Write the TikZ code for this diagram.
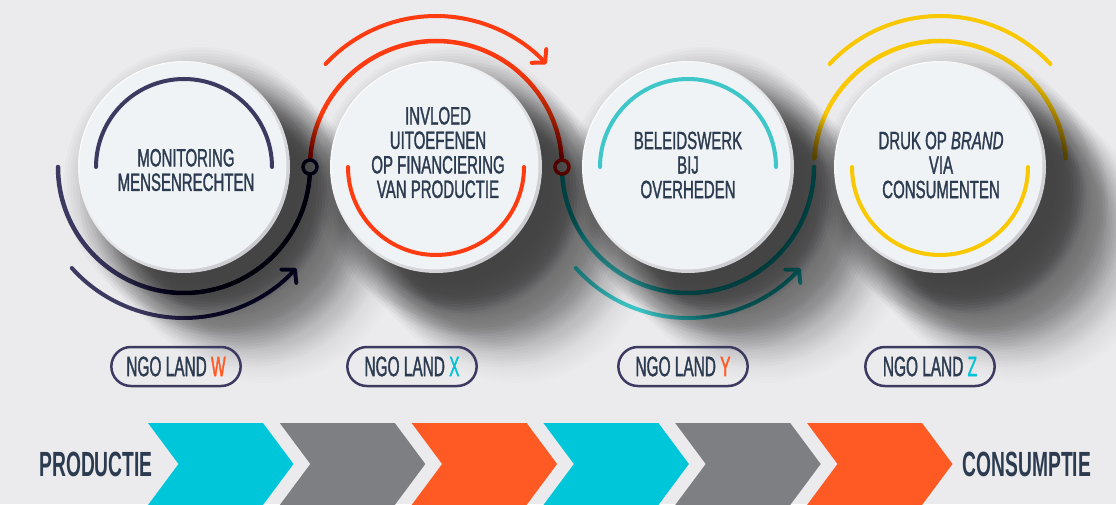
\documentclass[tikz,border=0pt]{standalone}
\usepackage{fontspec}
\setmainfont{Liberation Sans}
\newfontfamily\narrowfont[FakeStretch=0.6,FakeBold=1.2]{Liberation Sans}
\newfontfamily\tightfont[FakeStretch=0.55,FakeBold=1.2]{Liberation Sans}
\newfontfamily\polefont[FakeStretch=0.55]{Liberation Sans}
\usetikzlibrary{arrows.meta,shapes.misc}

\definecolor{bgcol}{HTML}{EBEBED}
\definecolor{navy}{HTML}{3D3A62}
\definecolor{flame}{HTML}{FF3B12}
\definecolor{lagoon}{HTML}{3EC6C8}
\definecolor{sun}{HTML}{F9C800}
\definecolor{ink}{HTML}{2C3B50}
\definecolor{tagorange}{HTML}{FF5A24}
\definecolor{tagcyan}{HTML}{00C3D8}
\definecolor{chevcyan}{HTML}{00C6DA}
\definecolor{chevgray}{HTML}{7E7F82}
\definecolor{chevorange}{HTML}{FF5A24}
\definecolor{discface}{HTML}{EFF3F5}
\definecolor{discrim}{HTML}{CACACF}

\begin{document}
\begin{tikzpicture}[x=1pt,y=1pt]
  \tikzset{
    disc/.style={circle, inner sep=0pt, minimum size=212pt, top color=white, bottom color=discrim, shading angle=45},
    face/.style={circle, inner sep=0pt, minimum size=207pt, fill=discface},
    ring/.style={line width=4.5pt, line cap=round},
    flow/.style={line width=4pt, line cap=round, -{Straight Barb[length=9pt,width=20pt,round]}},
    joint/.style={circle, draw, line width=3.5pt, fill=bgcol, inner sep=0pt, minimum size=14pt},
    caption/.style={text=ink, align=center, font=\narrowfont\fontsize{25}{24.5}\selectfont},
    tag/.style={rounded rectangle, draw=navy, line width=2.5pt, minimum width=136pt, minimum height=39pt, text=ink, font=\tightfont\fontsize{28}{28}\selectfont},
    pole/.style={text=ink, font=\polefont\bfseries\fontsize{35}{35}\selectfont},
  }

  \useasboundingbox (0,0) rectangle (1116,504);
  \fill[bgcol] (0,0) rectangle (1116,504);

  \coordinate (c1) at (184,337);
  \coordinate (c2) at (436,337);
  \coordinate (c3) at (688,337);
  \coordinate (c4) at (940,337);

  % track running through all four discs
  \draw[ring, navy] (c1) ++(180:126) arc[start angle=180, end angle=360, radius=126];
  \draw[ring, flame] (c2) ++(180:126) arc[start angle=180, end angle=0, radius=126];
  \draw[ring, lagoon] (c3) ++(180:126) arc[start angle=180, end angle=360, radius=126];
  \draw[ring, sun] (c4) ++(176:126) arc[start angle=176, end angle=4, radius=126];

  % outer arrows
  \draw[flow, navy] (c1) ++(222:151) arc[start angle=222, end angle=318, radius=151];
  \draw[flow, flame] (c2) ++(137:151) arc[start angle=137, end angle=43, radius=151];
  \draw[flow, lagoon] (c3) ++(222:151) arc[start angle=222, end angle=318, radius=151];
  \draw[ring, line width=4pt, sun] (c4) ++(137:151) arc[start angle=137, end angle=43, radius=151];

  \node[joint, draw=navy] (j1) at (310,337) {};
  \node[joint, draw=flame] (j2) at (562,337) {};

  % cast shadows: stacked faint discs, smeared down to the right
  \foreach \c in {c1,c2,c3,c4}
    \foreach \s/\o in {16/0.02,32/0.018,48/0.014,64/0.01,80/0.007}
      \foreach \r in {100,103,...,136}
        \fill[black, fill opacity=\o] ([shift={(\s,-\s)}]\c) circle (\r);

  % discs
  \foreach \c in {c1,c2,c3,c4} {
    \node[disc] (d\c) at (\c) {};
    \node[face] (f\c) at ([shift={(-1,1)}]\c) {};
  }

  \draw[ring, line width=4pt, navy] (c1) ++(180:88) arc[start angle=180, end angle=0, radius=88];
  \draw[ring, line width=4pt, flame] (c2) ++(180:88) arc[start angle=180, end angle=360, radius=88];
  \draw[ring, line width=4pt, lagoon] (c3) ++(180:88) arc[start angle=180, end angle=0, radius=88];
  \draw[ring, line width=4pt, sun] (c4) ++(180:88) arc[start angle=180, end angle=360, radius=88];

  \node[caption] (t1) at (186,334) {MONITORING\\MENSENRECHTEN};
  \node[caption] (t2) at (438,351.5) {INVLOED\\UITOEFENEN\\OP FINANCIERING\\VAN PRODUCTIE};
  \node[caption] (t3) at (688,339) {BELEIDSWERK\\BIJ\\OVERHEDEN};
  \node[caption] (t4) at (941,339) {DRUK OP \textit{BRAND}\\VIA\\CONSUMENTEN};

  % countries
  \node[tag] (g1) at (176,137.5) {NGO LAND \textcolor{tagorange}{W}};
  \node[tag] (g2) at (412,137.5) {NGO LAND \textcolor{tagcyan}{X}};
  \node[tag] (g3) at (683,137.5) {NGO LAND \textcolor{tagorange}{Y}};
  \node[tag] (g4) at (930,137.5) {NGO LAND \textcolor{tagcyan}{Z}};

  % chain of chevrons
  \foreach \col [count=\i from 0] in {chevcyan,chevgray,chevorange,chevcyan,chevgray,chevorange} {
    \pgfmathsetmacro\x{148+131.8*\i}
    \fill[\col] (\x,81) -- ++(115,0) -- ++(30.5,-41) -- ++(-30.5,-41) -- ++(-115,0) -- ++(30.5,41) -- cycle;
  }

  \node[pole] (prod) at (96,40) {PRODUCTIE};
  \node[pole] (cons) at (1027,40) {CONSUMPTIE};
\end{tikzpicture}
\end{document}
